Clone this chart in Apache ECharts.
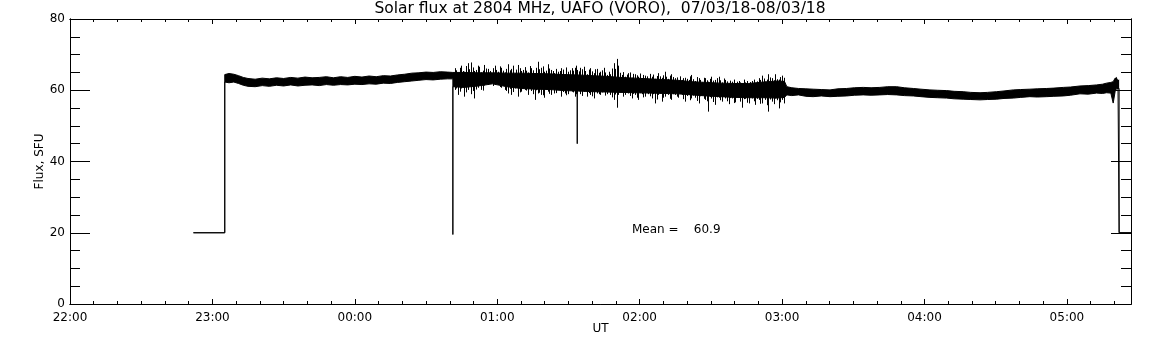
<!DOCTYPE html>
<html>
<head>
<meta charset="utf-8">
<title>Solar flux at 2804 MHz</title>
<script src="https://cdn.jsdelivr.net/npm/echarts@6/dist/echarts.min.js"></script>
<style>
  html, body { margin: 0; padding: 0; background: #fff; }
  #chart { width: 1152px; height: 345px; }
</style>
</head>
<body>
<div id="chart"></div>
<script>
// time in minutes after 22:00 UT, 07/03/18
const minutes = [
  52, 65.2, 65.2, 67, 69, 71, 73, 75, 78, 81,
  84, 87, 90, 93, 96, 99, 102, 105, 108, 111,
  114, 117, 120, 123, 126, 129, 132, 135, 138, 141,
  144, 147, 150, 153, 156, 159, 161.3, 161.3, 161.3, 166,
  172, 178, 184, 190, 196, 202, 208, 213.7, 213.7, 213.7,
  220, 226, 232, 238, 244, 250, 256, 262, 268, 274,
  280, 286, 292, 298, 301, 302.0, 304.1, 306.9, 310.0, 313.1,
  316.5, 320.2, 323.5, 327.2, 330.5, 334.2, 337.5, 341.2, 344.5, 348.3,
  351.5, 355.3, 358.5, 362.3, 365.5, 369.3, 372.5, 376.3, 379.5, 383.4,
  386.5, 390.4, 393.5, 397.4, 400.5, 404.4, 407.5, 411.5, 414.5, 418.5,
  421.5, 425.5, 429.0, 432.5, 435.0, 436.7, 438.5, 439.5, 440.3, 440.9,
  441.5, 442.0, 442.0, 447
];

// lower edge of the dense part of the trace, SFU
const fluxLow = [
  20, 20, 62.3, 62.1, 62.3, 61.9, 61.4, 61.1, 61.0, 61.3,
  61.1, 61.4, 61.2, 61.5, 61.2, 61.4, 61.5, 61.3, 61.6, 61.4,
  61.6, 61.5, 61.7, 61.6, 61.8, 61.7, 62.0, 61.9, 62.2, 62.4,
  62.6, 62.8, 63.0, 62.9, 63.1, 63.2, 63.2, 19.5, 61.0, 60.8,
  61.2, 61.8, 61.0, 60.5, 60.3, 60.2, 59.9, 59.8, 45.0, 59.8,
  59.6, 59.5, 59.4, 59.3, 59.2, 59.1, 59.0, 58.7, 58.4, 58.2,
  58.0, 57.9, 57.9, 57.8, 58.0, 58.7, 58.5, 58.7, 58.3, 58.2,
  58.4, 58.2, 58.3, 58.4, 58.6, 58.7, 58.6, 58.7, 58.8, 58.7,
  58.5, 58.4, 58.2, 58.0, 57.9, 57.8, 57.6, 57.5, 57.4, 57.3,
  57.4, 57.5, 57.7, 57.8, 58.0, 58.2, 58.1, 58.2, 58.3, 58.4,
  58.6, 59.0, 58.9, 59.2, 59.1, 59.3, 59.2, 56.4, 59.6, 60.5,
  60.3, 60.5, 20, 20
];

// upper edge of the dense part of the trace, SFU
const fluxHigh = [
  20, 20, 64.4, 64.7, 64.5, 64.1, 63.6, 63.3, 63.1, 63.4,
  63.2, 63.5, 63.3, 63.6, 63.4, 63.7, 63.5, 63.6, 63.8, 63.5,
  63.8, 63.6, 63.9, 63.7, 64.0, 63.8, 64.1, 64.0, 64.3, 64.5,
  64.8, 64.9, 65.1, 65.0, 65.2, 65.1, 65.0, 65.0, 65.0, 65.0,
  64.9, 64.9, 64.8, 64.8, 64.7, 64.6, 64.4, 64.3, 64.3, 64.3,
  64.1, 63.9, 63.6, 63.4, 63.2, 63.0, 62.8, 62.4, 62.2, 62.0,
  61.9, 61.9, 62.3, 62.6, 62.5, 61.0, 60.7, 60.5, 60.4, 60.3,
  60.2, 60.1, 60.4, 60.5, 60.7, 60.8, 60.7, 60.8, 61.0, 61.0,
  60.7, 60.5, 60.3, 60.1, 60.0, 59.9, 59.7, 59.6, 59.4, 59.3,
  59.4, 59.6, 59.8, 60.1, 60.2, 60.3, 60.4, 60.5, 60.6, 60.8,
  60.9, 61.2, 61.3, 61.5, 61.7, 62.0, 62.2, 62.4, 63.4, 63.8,
  62.8, 63.1, 20, 20
];

// extremes of the fast fluctuations, 00:41 - 03:01 UT
const spikeMinutes = [
  162.0, 163.4, 164.8, 166.2, 167.6, 169.0, 170.4, 171.8, 173.2, 174.6,
  176.0, 177.5, 178.9, 180.3, 181.7, 183.1, 184.5, 185.9, 187.3, 188.7,
  190.1, 191.5, 192.9, 194.3, 195.7, 197.1, 198.5, 199.9, 201.3, 202.7,
  204.1, 205.5, 207.0, 208.4, 209.9, 211.3, 212.7, 213.7, 215.0, 216.4,
  217.8, 219.2, 220.6, 222.0, 223.4, 224.8, 226.2, 227.6, 229.0, 230.3,
  231.0, 232.4, 233.8, 235.2, 236.6, 238.0, 239.4, 240.8, 242.2, 243.6,
  245.0, 246.4, 247.8, 249.2, 250.6, 252.0, 253.4, 254.8, 256.3, 257.7,
  259.2, 260.6, 261.7, 263.4, 264.8, 266.2, 267.6, 269.0, 270.2, 271.8,
  273.3, 274.7, 276.1, 277.5, 278.9, 280.3, 281.7, 283.1, 284.5, 285.9,
  287.3, 288.7, 290.1, 291.5, 292.9, 294.0, 295.7, 297.1, 298.5, 299.9,
  300.6,
  // intermediate readings
  162.7, 164.1, 165.5, 166.9, 168.3, 169.7, 171.1, 172.5, 173.9, 175.3,
  176.75, 178.2, 179.6, 181.0, 182.4, 183.8, 185.2, 186.6, 188.0, 189.4,
  190.8, 192.2, 193.6, 195.0, 196.4, 197.8, 199.2, 200.6, 202.0, 203.4,
  204.8, 206.25, 207.7, 209.15, 210.6, 212.0, 213.2, 214.35, 215.7, 217.1,
  218.5, 219.9, 221.3, 222.7, 224.1, 225.5, 226.9, 228.3, 229.65, 230.65,
  231.7, 233.1, 234.5, 235.9, 237.3, 238.7, 240.1, 241.5, 242.9, 244.3,
  245.7, 247.1, 248.5, 249.9, 251.3, 252.7, 254.1, 255.55, 257.0, 258.45,
  259.9, 261.15, 262.55, 264.1, 265.5, 266.9, 268.3, 269.6, 271.0, 272.55,
  274.0, 275.4, 276.8, 278.2, 279.6, 281.0, 282.4, 283.8, 285.2, 286.6,
  288.0, 289.4, 290.8, 292.2, 293.45, 294.85, 296.4, 297.8, 299.2, 300.25
];
const spikeLow = [
  60.1, 58.7, 60.5, 58.2, 60.1, 58.9, 57.7, 60.7, 60.1, 61.3,
  61.5, 61.9, 61.5, 61.8, 60.7, 60.1, 59.1, 58.7, 60.5, 58.2,
  59.6, 60.1, 58.7, 59.8, 57.3, 59.1, 58.7, 57.9, 59.6, 58.7,
  59.1, 60.1, 58.2, 59.1, 58.9, 59.6, 58.2, 59.1, 58.9, 59.6,
  58.2, 58.7, 57.7, 59.1, 58.7, 59.6, 58.9, 58.7, 57.3, 55.1,
  58.7, 59.6, 58.7, 59.1, 57.7, 58.7, 57.3, 58.9, 58.2, 58.9,
  57.7, 56.3, 58.7, 56.8, 58.2, 58.7, 57.3, 58.7, 57.9, 58.7,
  56.8, 58.7, 57.7, 57.9, 56.3, 58.7, 57.3, 54.0, 57.7, 55.9,
  57.9, 56.8, 57.7, 56.1, 57.7, 56.6, 57.9, 55.1, 57.6, 56.3,
  57.7, 55.9, 57.3, 56.3, 57.3, 54.0, 56.8, 57.7, 54.9, 57.3,
  56.3,
  60.5, 59.6, 61.0, 59.4, 61.2, 59.8, 60.2, 61.4, 59.9, 61.8,
  62.0, 61.2, 62.1, 60.9, 61.6, 59.8, 60.4, 59.5, 60.8, 59.4,
  60.6, 59.9, 60.8, 58.9, 60.0, 59.3, 58.6, 60.2, 59.0, 60.4,
  59.2, 60.0, 59.5, 58.6, 60.1, 59.4, 58.9, 59.7, 58.4, 59.9,
  59.2, 58.3, 59.8, 58.9, 59.4, 58.5, 59.7, 58.0, 58.8, 57.6,
  59.3, 58.2, 59.6, 58.4, 59.0, 57.9, 59.2, 58.0, 59.4, 58.3,
  58.9, 57.4, 59.1, 57.9, 59.0, 57.6, 58.9, 58.2, 59.1, 57.5,
  58.4, 57.2, 58.5, 57.0, 58.3, 57.6, 56.9, 58.1, 56.7, 58.0,
  57.2, 58.2, 56.9, 57.8, 56.4, 58.1, 56.8, 57.5, 56.5, 58.0,
  56.9, 57.6, 56.2, 57.9, 55.8, 57.4, 56.1, 57.2, 56.6, 57.8
];
const spikeHigh = [
  66.2, 64.8, 66.9, 65.2, 67.6, 67.8, 65.4, 66.9, 65.0, 67.1,
  66.0, 64.8, 66.9, 65.2, 66.3, 65.0, 67.3, 66.0, 64.8, 67.1,
  65.4, 66.5, 65.0, 66.2, 64.8, 68.0, 66.3, 65.2, 67.3, 65.7,
  64.8, 65.2, 66.2, 64.5, 65.2, 66.2, 66.3, 65.7, 66.3, 66.6,
  64.5, 66.2, 64.8, 66.0, 65.2, 66.3, 64.3, 64.5, 67.6, 68.8,
  66.9, 64.3, 63.8, 64.8, 63.5, 64.5, 63.8, 63.4, 64.1, 63.0,
  63.8, 63.2, 64.8, 63.5, 65.2, 63.2, 64.5, 63.4, 62.4, 62.9,
  63.5, 62.9, 64.3, 62.6, 63.4, 62.2, 63.4, 62.4, 63.8, 62.9,
  63.8, 62.2, 62.9, 61.9, 62.4, 61.7, 62.6, 61.5, 62.2, 61.7,
  62.6, 61.9, 63.4, 64.1, 62.4, 64.5, 63.4, 64.5, 63.0, 64.1,
  63.5,
  65.6, 66.3, 65.4, 66.8, 65.9, 66.4, 65.7, 66.6, 65.5, 66.1,
  65.4, 66.2, 65.7, 66.7, 65.5, 66.0, 65.6, 66.9, 65.8, 66.2,
  65.7, 65.5, 66.8, 65.6, 66.3, 65.9, 66.7, 65.5, 66.1, 65.4,
  66.0, 65.4, 65.8, 66.4, 65.6, 65.5, 66.9, 65.3, 65.9, 65.4,
  65.8, 65.3, 65.9, 64.9, 65.6, 65.0, 65.2, 66.1, 66.0, 65.2,
  64.9, 65.1, 64.4, 65.0, 64.6, 64.2, 64.7, 64.3, 63.9, 64.6,
  64.4, 64.0, 63.9, 64.2, 63.8, 64.1, 63.7, 63.6, 63.9, 63.4,
  63.2, 63.9, 63.1, 63.7, 62.9, 63.5, 62.8, 63.2, 62.7, 63.4,
  62.8, 63.3, 62.5, 62.7, 63.0, 62.4, 62.2, 63.0, 62.6, 62.3,
  63.0, 62.5, 62.9, 63.3, 63.0, 63.6, 62.8, 63.1, 63.7, 62.6
];

const hourLabels = ['22:00', '23:00', '00:00', '01:00', '02:00', '03:00', '04:00', '05:00'];
const meanFlux = 60.9;
const titleText = 'Solar flux at 2804 MHz, UAFO (VORO),  07/03/18-08/03/18';

const FONT = '"DejaVu Sans", sans-serif';
const chart = echarts.init(document.getElementById('chart'));

function xAx(pos, interval, len, withLabels) {
  return {
    type: 'value', position: pos, min: 0, max: 447, interval: interval,
    axisLine: { show: true, onZero: false, lineStyle: { color: '#000', width: 1 } },
    axisTick: { show: true, inside: true, length: len, lineStyle: { color: '#000', width: 1 } },
    axisLabel: withLabels ? {
      show: true, color: '#000', fontFamily: FONT, fontSize: 12, margin: 8,
      formatter: v => (v % 60 === 0 ? hourLabels[v / 60] : '')
    } : { show: false },
    splitLine: { show: false },
    z: 10
  };
}
function yAx(pos, interval, len, withLabels) {
  return {
    type: 'value', position: pos, min: 0, max: 80, interval: interval,
    axisLine: { show: true, onZero: false, lineStyle: { color: '#000', width: 1 } },
    axisTick: { show: true, inside: true, length: len, lineStyle: { color: '#000', width: 1 } },
    axisLabel: withLabels ? { show: true, color: '#000', fontFamily: FONT, fontSize: 12, margin: 5 } : { show: false },
    splitLine: { show: false },
    z: 10
  };
}

const xMain = xAx('bottom', 60, 5, true);
xMain.name = 'UT';
xMain.nameLocation = 'middle';
xMain.nameGap = 19;
xMain.nameMoveOverlap = false;
xMain.nameTextStyle = { color: '#000', fontFamily: FONT, fontSize: 12 };
const yMain = yAx('left', 20, 20, true);
yMain.name = 'Flux, SFU';
yMain.nameLocation = 'middle';
yMain.nameRotate = 90;
yMain.nameGap = 24;
yMain.nameMoveOverlap = false;
yMain.nameTextStyle = { color: '#000', fontFamily: FONT, fontSize: 12 };

const highPts = minutes.map((t, i) => [t, fluxHigh[i]]);
const lowPts = minutes.map((t, i) => [t, fluxLow[i]]);
const spikeItems = spikeMinutes.map((t, i) => [t, spikeLow[i], spikeHigh[i]]);

chart.setOption({
  animation: false,
  backgroundColor: '#fff',
  grid: { left: 70, right: 21, top: 19, bottom: 41, containLabel: false, outerBoundsMode: 'none' },
  xAxis: [xMain, xAx('bottom', 10, 3, false), xAx('top', 60, 5, false), xAx('top', 10, 3, false)],
  yAxis: [yMain, yAx('left', 5, 10, false), yAx('right', 20, 20, false), yAx('right', 5, 10, false)],
  graphic: [
    { type: 'text', x: 600, y: 9, z: 20,
      style: { text: titleText, fill: '#000', fontFamily: FONT, fontSize: 15.5, align: 'center', verticalAlign: 'middle' } },
    { type: 'text', x: 632, y: 230, z: 20,
      style: { text: 'Mean =    ' + meanFlux.toFixed(1), fill: '#000', fontFamily: FONT, fontSize: 12, align: 'left', verticalAlign: 'middle' } }
  ],
  series: [
    {
      // filled band between the two edges
      type: 'custom',
      xAxisIndex: 0, yAxisIndex: 0,
      silent: true,
      clip: false,
      data: [[minutes[0], fluxLow[0]]],
      renderItem: function (params, api) {
        const pts = [];
        for (let i = 0; i < minutes.length; i++) pts.push(api.coord([minutes[i], fluxHigh[i]]));
        for (let i = minutes.length - 1; i >= 0; i--) pts.push(api.coord([minutes[i], fluxLow[i]]));
        return { type: 'polygon', shape: { points: pts }, style: { fill: '#000' } };
      }
    },
    {
      type: 'line', xAxisIndex: 0, yAxisIndex: 0, data: highPts,
      showSymbol: false, symbol: 'none', silent: true,
      lineStyle: { color: '#000', width: 1 }
    },
    {
      type: 'line', xAxisIndex: 0, yAxisIndex: 0, data: lowPts,
      showSymbol: false, symbol: 'none', silent: true,
      lineStyle: { color: '#000', width: 1 }
    },
    {
      // one vertical stroke per fluctuation
      type: 'custom',
      xAxisIndex: 0, yAxisIndex: 0,
      silent: true,
      data: spikeItems,
      encode: { x: 0, y: [1, 2] },
      renderItem: function (params, api) {
        const a = api.coord([api.value(0), api.value(1)]);
        const b = api.coord([api.value(0), api.value(2)]);
        const x = Math.round(a[0]) + 0.5;
        return { type: 'line', shape: { x1: x, y1: a[1], x2: x, y2: b[1] }, style: { stroke: '#000', lineWidth: 1 } };
      }
    }
  ]
});
</script>
</body>
</html>
